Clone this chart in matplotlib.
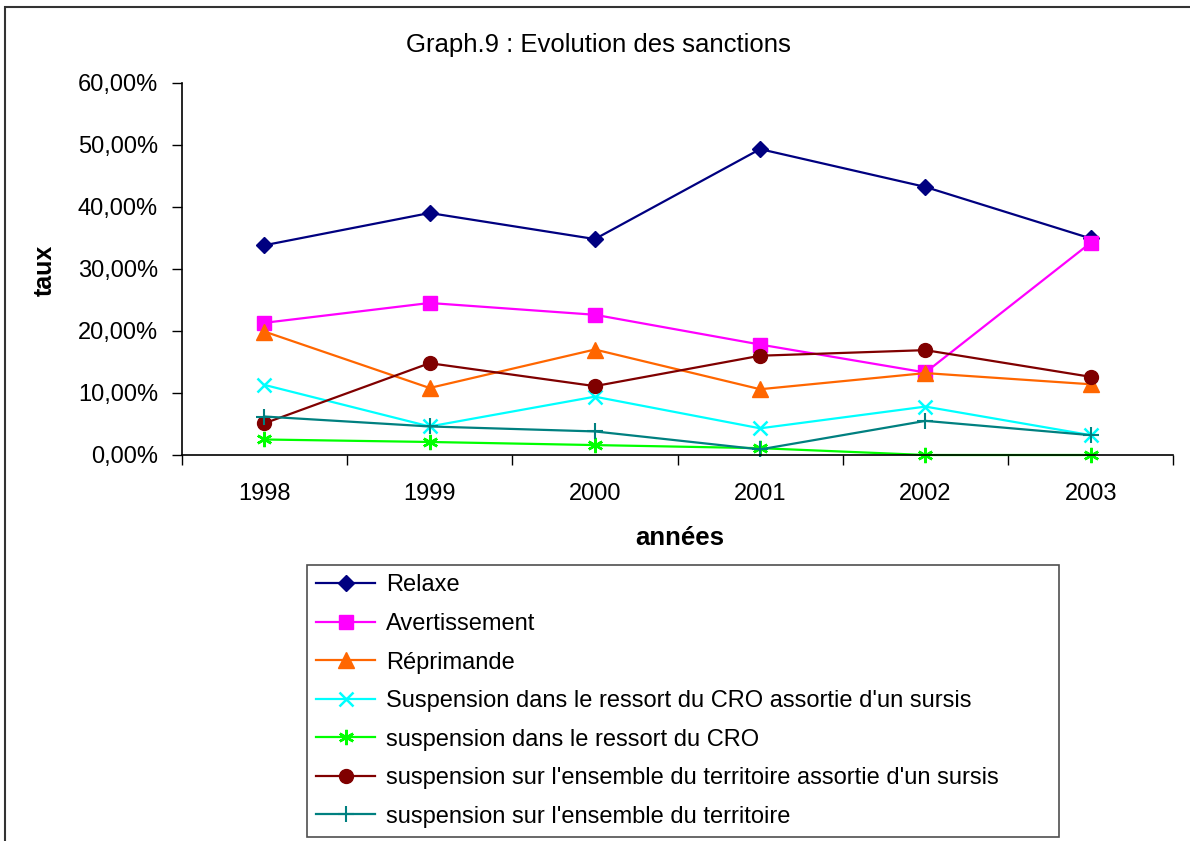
import matplotlib
matplotlib.use("Agg")
import matplotlib.pyplot as plt
from matplotlib.patches import Rectangle
from matplotlib.ticker import FuncFormatter, FixedLocator

plt.rcParams['font.family'] = ['Liberation Sans', 'DejaVu Sans']

years = ["1998", "1999", "2000", "2001", "2002", "2003"]
relaxe = [33.8, 39.0, 34.8, 49.3, 43.2, 34.9]
avertissement = [21.3, 24.5, 22.6, 17.8, 13.3, 34.2]
reprimande = [19.9, 10.8, 17.0, 10.6, 13.2, 11.4]
susp_cro_sursis = [11.3, 4.6, 9.4, 4.3, 7.8, 3.2]
susp_cro = [2.5, 2.1, 1.6, 1.1, 0.0, 0.0]
susp_terr_sursis = [5.1, 14.8, 11.1, 16.0, 16.9, 12.6]
susp_terr = [6.2, 4.6, 3.8, 0.9, 5.5, 3.2]

labels = ["Relaxe", "Avertissement", "Réprimande",
          "Suspension dans le ressort du CRO assortie d'un sursis",
          "suspension dans le ressort du CRO",
          "suspension sur l'ensemble du territoire assortie d'un sursis",
          "suspension sur l'ensemble du territoire"]

W, H = 1190, 841
fig = plt.figure(figsize=(W/100, H/100), dpi=100)
fig.patches.append(Rectangle((5/W, -0.1), 2, 1.1 - 7/H, transform=fig.transFigure,
                             fill=False, edgecolor='#333333', linewidth=1.5))

x0, x1, ytop, ybot = 181.7, 1173.3, 82.7, 455
ax = fig.add_axes([x0/W, 1 - ybot/H, (x1 - x0)/W, (ybot - ytop)/H])

xs = list(range(len(years)))
series = [
    (relaxe, dict(color='#000080', marker='D', markersize=8)),
    (avertissement, dict(color='#FF00FF', marker='s', markersize=10)),
    (reprimande, dict(color='#FF6600', marker='^', markersize=11)),
    (susp_cro_sursis, dict(color='#00FFFF', marker='x', markersize=10, markeredgewidth=1.8)),
    (susp_cro, dict(color='#00FF00', marker=(6, 2, 0), markersize=11, markeredgewidth=1.8)),
    (susp_terr_sursis, dict(color='#800000', marker='o', markersize=10)),
    (susp_terr, dict(color='#008080', marker='+', markersize=12, markeredgewidth=1.5)),
]
handles = []
for (vals, style), lab in zip(series, labels):
    h, = ax.plot(xs, vals, linewidth=1.6, label=lab, clip_on=False, **style)
    handles.append(h)

ax.set_xlim(-0.5, len(years) - 0.5)
ax.set_ylim(0, 60)
ax.set_yticks([0, 10, 20, 30, 40, 50, 60])
ax.yaxis.set_major_formatter(FuncFormatter(lambda v, p: f"{v:.2f}".replace('.', ',') + "%"))
ax.set_xticks(xs)
ax.set_xticklabels(years)
ax.xaxis.set_minor_locator(FixedLocator([i - 0.5 for i in range(len(years) + 1)]))
ax.tick_params(axis='x', which='major', length=0, pad=20, labelsize=17)
ax.tick_params(axis='x', which='minor', length=7, width=1, direction='out')
ax.tick_params(axis='y', length=7, width=1, direction='out', labelsize=17, pad=10)
for s in ['top', 'right']:
    ax.spines[s].set_visible(False)
for s in ['left', 'bottom']:
    ax.spines[s].set_linewidth(1.2)

fig.text(680/W, 1 - 538/H, "années", ha='center', va='center', fontsize=18.5, fontweight='bold')
fig.text(45/W, 1 - 270/H, "taux", ha='center', va='center', fontsize=18, fontweight='bold', rotation=90)
fig.text(598/W, 1 - 45/H, "Graph.9 : Evolution des sanctions", ha='center', va='center', fontsize=18.5)

lx0, lx1, ly0, ly1 = 307, 1059, 565, 837
leg = fig.legend(handles=handles, loc='upper left',
                 bbox_to_anchor=(lx0/W, 1 - ly1/H, (lx1 - lx0)/W, (ly1 - ly0)/H),
                 mode='expand', fontsize=17, frameon=True, fancybox=False,
                 edgecolor='#222222', handlelength=2.5, handletextpad=0.45,
                 labelspacing=0.7, borderpad=0.4, borderaxespad=0)
leg.get_frame().set_linewidth(1.2)

fig.savefig("out.png", dpi=100)
